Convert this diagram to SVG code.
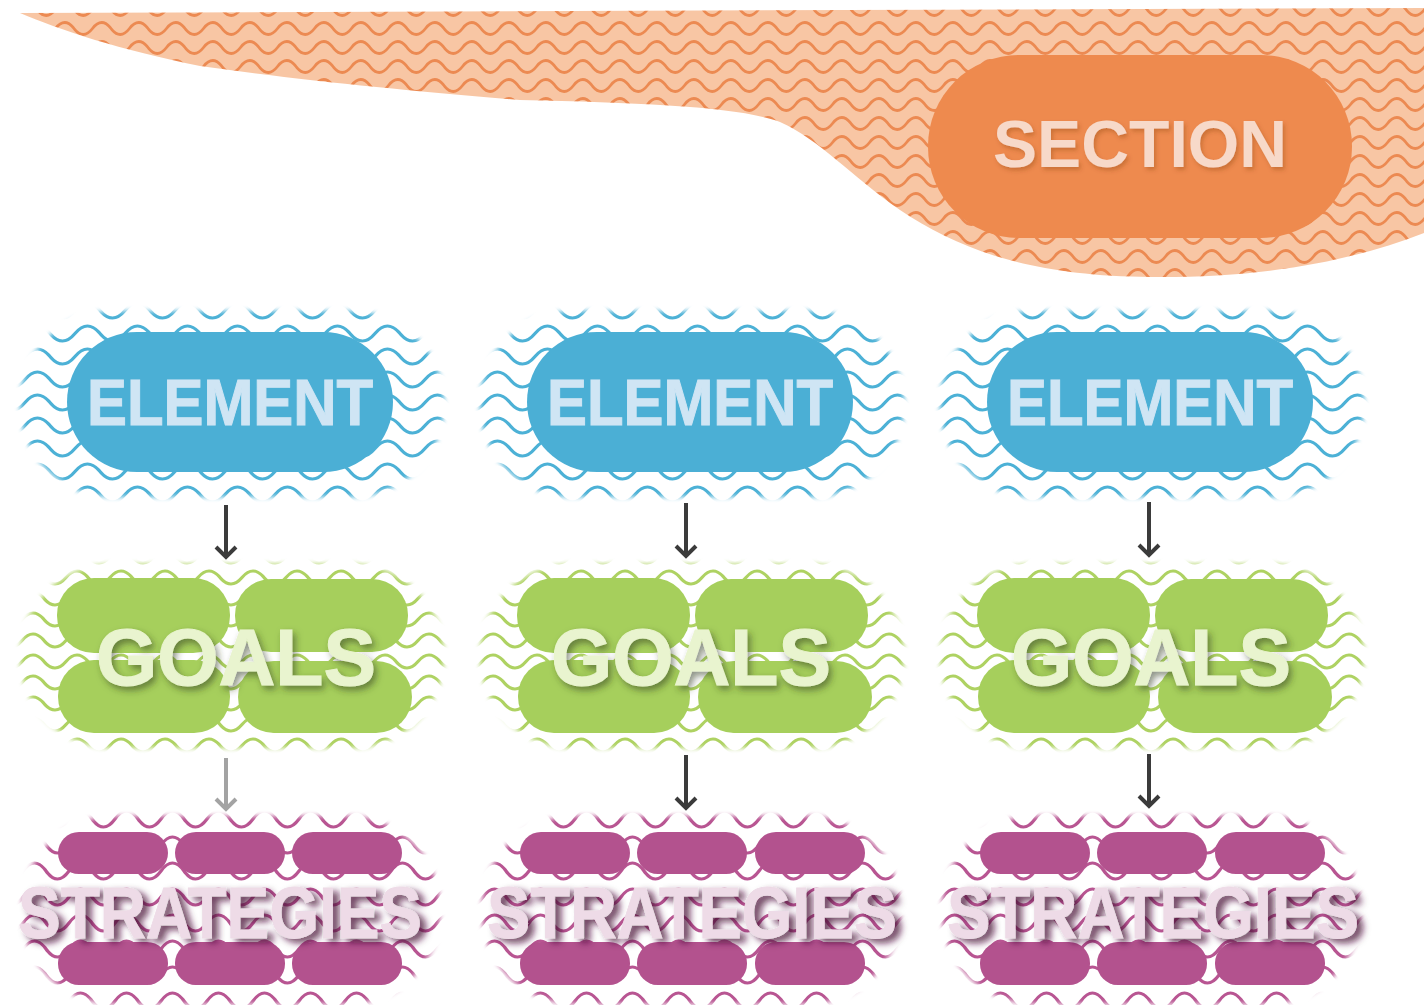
<svg xmlns="http://www.w3.org/2000/svg" width="1424" height="1005" viewBox="0 0 1424 1005">
  <defs>
    <style>
      .lbl { font-family: "Liberation Sans", Arial, sans-serif; font-weight: bold; text-anchor: middle; }
      .sec-txt { fill: #f7d9c9; font-size: 66px; filter: url(#softShadow); }
      .el-pill { fill: #4bafd5; }
      .el-txt { fill: #cfe5f4; font-size: 64px; stroke: #cfe5f4; stroke-width: 1; }
      .go-pill { fill: #a6cf5c; }
      .go-txt { fill: #e9f4cf; font-size: 80px; stroke: #e9f4cf; stroke-width: 1; filter: url(#darkShadow); }
      .st-pill { fill: #b3528e; }
      .st-txt { fill: #eedbe7; font-size: 72px; stroke: #eedbe7; stroke-width: 0.8; filter: url(#deepShadow); }
      .conn { fill: none; stroke: #3b3b3b; stroke-width: 4; }
      .conn.light { stroke: #a3a3a3; }
    </style>

    <!-- wave fills -->
    <pattern id="waveOrange" patternUnits="userSpaceOnUse" width="37" height="19">
      <rect width="37" height="19" fill="#f8c6a4"/>
      <path d="M-18.5,9.5 Q-9.25,-2.5 0,9.5 T18.5,9.5 T37,9.5 T55.5,9.5" fill="none" stroke="#ec8a52" stroke-width="2.8"/>
    </pattern>
    <pattern id="waveBlue" patternUnits="userSpaceOnUse" width="50" height="23">
      <path d="M-25,11.5 Q-12.5,-3.5 0,11.5 T25,11.5 T50,11.5 T75,11.5" fill="none" stroke="#4cb1d6" stroke-width="3.2"/>
    </pattern>
    <pattern id="waveGreen" patternUnits="userSpaceOnUse" width="44" height="21">
      <path d="M-22,10.5 Q-11,-2.5 0,10.5 T22,10.5 T44,10.5 T66,10.5" fill="none" stroke="#aed262" stroke-width="3.2"/>
    </pattern>
    <pattern id="waveMagenta" patternUnits="userSpaceOnUse" width="46" height="26">
      <path d="M-23,13 Q-11.5,-3 0,13 T23,13 T46,13 T69,13" fill="none" stroke="#b85592" stroke-width="3.2"/>
    </pattern>

    <!-- soft-edged wave areas (local column coordinates) -->
    <filter id="feather" x="-10%" y="-20%" width="120%" height="140%">
      <feGaussianBlur stdDeviation="2.5"/>
    </filter>
    <mask id="elArea" maskUnits="userSpaceOnUse" x="0" y="290" width="470" height="230">
      <rect x="20" y="311" width="424" height="186" rx="92" fill="#fff" filter="url(#feather)"/>
    </mask>
    <mask id="goArea" maskUnits="userSpaceOnUse" x="0" y="545" width="470" height="225">
      <rect x="20" y="564" width="424" height="184" rx="92" fill="#fff" filter="url(#feather)"/>
    </mask>
    <mask id="stArea" maskUnits="userSpaceOnUse" x="0" y="795" width="470" height="210">
      <rect x="22" y="816" width="418" height="188" rx="92" fill="#fff" filter="url(#feather)"/>
    </mask>

    <!-- text shadows -->
    <filter id="softShadow" x="-20%" y="-40%" width="140%" height="180%">
      <feDropShadow dx="2" dy="3" stdDeviation="2" flood-color="#7a3a10" flood-opacity="0.3"/>
    </filter>
    <filter id="darkShadow" x="-20%" y="-40%" width="140%" height="180%">
      <feDropShadow dx="3" dy="4" stdDeviation="3.5" flood-color="#2e3a1a" flood-opacity="0.55"/>
    </filter>
    <filter id="deepShadow" x="-20%" y="-40%" width="140%" height="180%">
      <feDropShadow dx="6" dy="4" stdDeviation="3.5" flood-color="#4a1038" flood-opacity="0.8"/>
    </filter>

    <marker id="headDark" viewBox="-14 -14 28 28" markerWidth="28" markerHeight="28" refX="0" refY="0" orient="auto" markerUnits="userSpaceOnUse">
      <path d="M-10,-10 L0,0 L-10,10" fill="none" stroke="#3b3b3b" stroke-width="4"/>
    </marker>
    <marker id="headLight" viewBox="-14 -14 28 28" markerWidth="28" markerHeight="28" refX="0" refY="0" orient="auto" markerUnits="userSpaceOnUse">
      <path d="M-10,-10 L0,0 L-10,10" fill="none" stroke="#a3a3a3" stroke-width="4"/>
    </marker>
  </defs>

  <rect width="1424" height="1005" fill="#ffffff"/>

  <!-- top band with the section label -->
  <g id="section">
    <path d="M20,13 L1424,8 L1424,233 C1350,262 1260,278 1150,277 C1030,276 960,250 900,210 C850,175 820,140 780,122 C740,107 650,103 520,100 C400,90 300,80 200,66 C120,50 60,30 20,13 Z" fill="url(#waveOrange)"/>
    <rect x="928" y="55" width="424" height="183" rx="91" fill="#ee8a4e"/>
    <text class="lbl sec-txt" x="1140" y="167" textLength="294" lengthAdjust="spacingAndGlyphs">SECTION</text>
  </g>

  <!-- element row -->
  <g id="element-1">
    <rect x="0" y="290" width="470" height="230" fill="url(#waveBlue)" mask="url(#elArea)"/>
    <rect class="el-pill" x="67" y="332" width="326" height="140" rx="70"/>
    <text class="lbl el-txt" x="230" y="425" textLength="286" lengthAdjust="spacingAndGlyphs">ELEMENT</text>
  </g>
  <g id="element-2" transform="translate(460,0)">
    <rect x="0" y="290" width="470" height="230" fill="url(#waveBlue)" mask="url(#elArea)"/>
    <rect class="el-pill" x="67" y="332" width="326" height="140" rx="70"/>
    <text class="lbl el-txt" x="230" y="425" textLength="286" lengthAdjust="spacingAndGlyphs">ELEMENT</text>
  </g>
  <g id="element-3" transform="translate(920,0)">
    <rect x="0" y="290" width="470" height="230" fill="url(#waveBlue)" mask="url(#elArea)"/>
    <rect class="el-pill" x="67" y="332" width="326" height="140" rx="70"/>
    <text class="lbl el-txt" x="230" y="425" textLength="286" lengthAdjust="spacingAndGlyphs">ELEMENT</text>
  </g>

  <!-- goals row -->
  <g id="goals-1">
    <rect x="0" y="545" width="470" height="225" fill="url(#waveGreen)" mask="url(#goArea)"/>
    <rect class="go-pill" x="57" y="578" width="173" height="75" rx="37"/>
    <rect class="go-pill" x="235" y="579" width="173" height="73" rx="36"/>
    <rect class="go-pill" x="58" y="660" width="172" height="73" rx="36"/>
    <rect class="go-pill" x="238" y="661" width="174" height="72" rx="36"/>
    <text class="lbl go-txt" x="236" y="685" textLength="280" lengthAdjust="spacingAndGlyphs">GOALS</text>
  </g>
  <g id="goals-2" transform="translate(460,0)">
    <rect x="0" y="545" width="470" height="225" fill="url(#waveGreen)" mask="url(#goArea)"/>
    <rect class="go-pill" x="57" y="578" width="173" height="75" rx="37"/>
    <rect class="go-pill" x="235" y="579" width="173" height="73" rx="36"/>
    <rect class="go-pill" x="58" y="660" width="172" height="73" rx="36"/>
    <rect class="go-pill" x="238" y="661" width="174" height="72" rx="36"/>
    <text class="lbl go-txt" x="231" y="685" textLength="280" lengthAdjust="spacingAndGlyphs">GOALS</text>
  </g>
  <g id="goals-3" transform="translate(920,0)">
    <rect x="0" y="545" width="470" height="225" fill="url(#waveGreen)" mask="url(#goArea)"/>
    <rect class="go-pill" x="57" y="578" width="173" height="75" rx="37"/>
    <rect class="go-pill" x="235" y="579" width="173" height="73" rx="36"/>
    <rect class="go-pill" x="58" y="660" width="172" height="73" rx="36"/>
    <rect class="go-pill" x="238" y="661" width="174" height="72" rx="36"/>
    <text class="lbl go-txt" x="231" y="685" textLength="280" lengthAdjust="spacingAndGlyphs">GOALS</text>
  </g>

  <!-- strategies row -->
  <g id="strategies-1">
    <rect x="0" y="795" width="470" height="210" fill="url(#waveMagenta)" mask="url(#stArea)"/>
    <rect class="st-pill" x="58" y="832" width="110" height="42" rx="21"/>
    <rect class="st-pill" x="175" y="832" width="110" height="42" rx="21"/>
    <rect class="st-pill" x="292" y="832" width="110" height="42" rx="21"/>
    <rect class="st-pill" x="58" y="942" width="110" height="43" rx="21"/>
    <rect class="st-pill" x="175" y="942" width="110" height="43" rx="21"/>
    <rect class="st-pill" x="292" y="942" width="110" height="43" rx="21"/>
    <text class="lbl st-txt" x="220" y="938" textLength="404" lengthAdjust="spacingAndGlyphs">STRATEGIES</text>
  </g>
  <g id="strategies-2" transform="translate(460,0)">
    <rect x="0" y="795" width="470" height="210" fill="url(#waveMagenta)" mask="url(#stArea)"/>
    <rect class="st-pill" x="60" y="832" width="110" height="42" rx="21"/>
    <rect class="st-pill" x="177" y="832" width="110" height="42" rx="21"/>
    <rect class="st-pill" x="295" y="832" width="110" height="42" rx="21"/>
    <rect class="st-pill" x="60" y="942" width="110" height="43" rx="21"/>
    <rect class="st-pill" x="177" y="942" width="110" height="43" rx="21"/>
    <rect class="st-pill" x="295" y="942" width="110" height="43" rx="21"/>
    <text class="lbl st-txt" x="232" y="938" textLength="410" lengthAdjust="spacingAndGlyphs">STRATEGIES</text>
  </g>
  <g id="strategies-3" transform="translate(920,0)">
    <rect x="0" y="795" width="470" height="210" fill="url(#waveMagenta)" mask="url(#stArea)"/>
    <rect class="st-pill" x="60" y="832" width="110" height="42" rx="21"/>
    <rect class="st-pill" x="177" y="832" width="110" height="42" rx="21"/>
    <rect class="st-pill" x="295" y="832" width="110" height="42" rx="21"/>
    <rect class="st-pill" x="60" y="942" width="110" height="43" rx="21"/>
    <rect class="st-pill" x="177" y="942" width="110" height="43" rx="21"/>
    <rect class="st-pill" x="295" y="942" width="110" height="43" rx="21"/>
    <text class="lbl st-txt" x="233" y="938" textLength="412" lengthAdjust="spacingAndGlyphs">STRATEGIES</text>
  </g>

  <!-- arrows between rows -->
  <g id="connectors">
    <line class="conn" x1="226" y1="505" x2="226" y2="557" marker-end="url(#headDark)"/>
    <line class="conn" x1="686" y1="503" x2="686" y2="556" marker-end="url(#headDark)"/>
    <line class="conn" x1="1149" y1="502" x2="1149" y2="555" marker-end="url(#headDark)"/>
    <line class="conn light" x1="226" y1="758" x2="226" y2="809" marker-end="url(#headLight)"/>
    <line class="conn" x1="686" y1="755" x2="686" y2="808" marker-end="url(#headDark)"/>
    <line class="conn" x1="1149" y1="754" x2="1149" y2="806" marker-end="url(#headDark)"/>
  </g>
</svg>
